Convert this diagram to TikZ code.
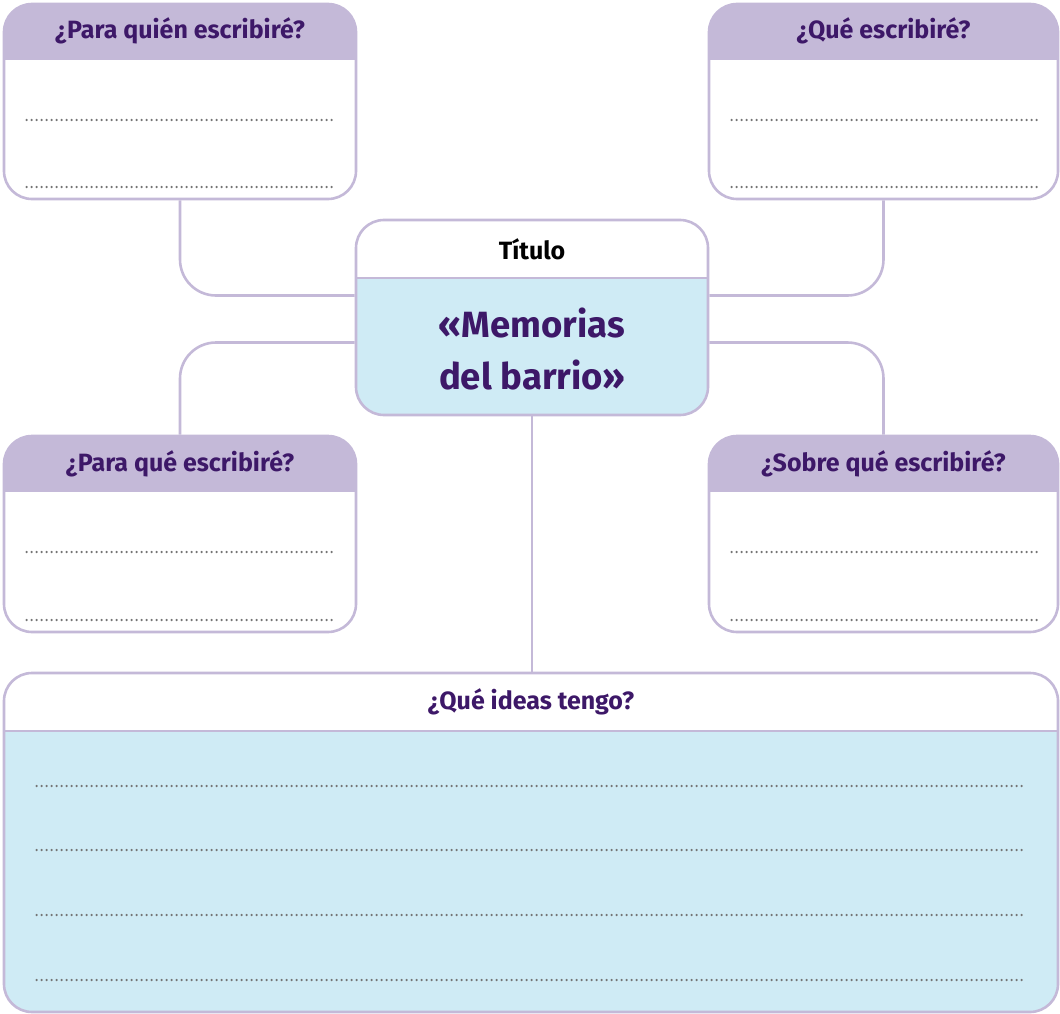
\documentclass[tikz,border=0pt]{standalone}
\usepackage{fontspec}
\setmainfont{Fira Sans}
\usetikzlibrary{calc}
\definecolor{lila}{HTML}{C4B9D8}
\definecolor{cielo}{HTML}{CFEBF5}
\definecolor{tinta}{HTML}{3D1868}
\definecolor{puntos}{HTML}{747474}
\begin{document}
\begin{tikzpicture}[x=1pt, y=-1pt,
    frame/.style={draw=lila, line width=2.6pt, rounded corners=28pt, inner sep=0pt},
    card/.style={frame, fill=white, path picture={
        \fill[lila, sharp corners] (path picture bounding box.north west) rectangle ([yshift=-#1]path picture bounding box.north east);}},
    bluecard/.style={frame, fill=cielo, path picture={
        \fill[white, sharp corners] (path picture bounding box.north west) rectangle ([yshift=-#1]path picture bounding box.north east);
        \draw[lila, line width=2.6pt, sharp corners] ([yshift=-#1]path picture bounding box.north west) -- ([yshift=-#1]path picture bounding box.north east);}},
    headtext/.style={text=tinta, font=\bfseries\fontsize{25}{29}\selectfont},
    dotline/.style={draw=puntos, line width=2.5pt, line cap=round, dash pattern=on 0pt off 5pt},
    link/.style={draw=lila, line width=2.6pt, rounded corners=36pt}]
    \useasboundingbox (0,0) rectangle (1060,1014);

    % Cards
    \node[card=56pt, minimum width=352pt, minimum height=195pt] (quien) at (180,101.5) {};
    \node[card=56pt, minimum width=349pt, minimum height=195pt] (que) at (883.5,101.5) {};
    \node[bluecard=58pt, minimum width=352pt, minimum height=195pt] (titulo) at (532,317.5) {};
    \node[card=56pt, minimum width=352pt, minimum height=196pt] (paraque) at (180,534) {};
    \node[card=56pt, minimum width=349pt, minimum height=196pt] (sobre) at (883.5,534) {};
    \node[bluecard=58pt, minimum width=1054pt, minimum height=339pt] (ideas) at (531,842.5) {};

    % Headings
    \node[headtext] (quien-t) at (180,31) {¿Para quién escribiré?};
    \node[headtext] (que-t) at (883.5,31) {¿Qué escribiré?};
    \node[headtext] (paraque-t) at (180,464) {¿Para qué escribiré?};
    \node[headtext] (sobre-t) at (883.5,464) {¿Sobre qué escribiré?};
    \node[font=\bfseries\fontsize{25}{29}\selectfont] (titulo-t) at (532,249) {Título};
    \node[headtext] (ideas-t) at (531,702) {¿Qué ideas tengo?};
    \node[text=tinta, align=center, font=\bfseries\fontsize{36.5}{52}\selectfont] (nombre) at (532,349) {«Memorias\\del barrio»};

    % Dotted rows
    \foreach \card/\ya/\yb in {quien/120/187, que/120/187, paraque/552/620, sobre/552/620}
        \foreach \y in {\ya,\yb}
            \draw[dotline] ($(\card.west |- 0,\y)+(24,0)$) -- ($(\card.east |- 0,\y)+(-22,0)$);
    \foreach \y in {786,850,915,980}
        \draw[dotline] ($(ideas.west |- 0,\y)+(34,0)$) -- ($(ideas.east |- 0,\y)+(-33,0)$);

    % Links
    \draw[link] (quien) |- ([yshift=22pt]titulo.west);
    \draw[link] (que) |- ([yshift=22pt]titulo.east);
    \draw[link] ([yshift=-25pt]titulo.west) -| (paraque);
    \draw[link] ([yshift=-25pt]titulo.east) -| (sobre);
    \draw[link] (titulo.south) -- (titulo.south |- ideas.north);
\end{tikzpicture}
\end{document}
